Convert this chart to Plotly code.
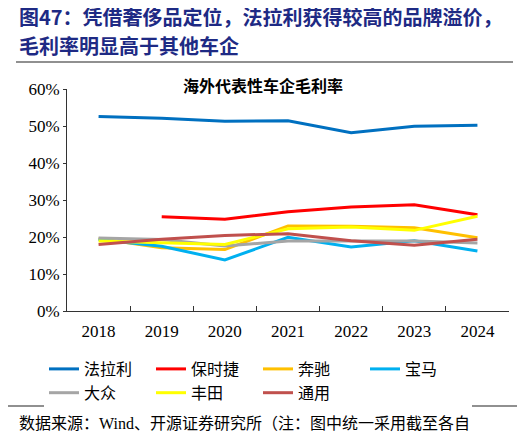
import plotly.graph_objects as go

years = ["2018", "2019", "2020", "2021", "2022", "2023", "2024"]

ferrari = [52.6, 52.1, 51.3, 51.4, 48.2, 49.9, 50.2]
porsche = [None, 25.5, 24.8, 26.8, 28.1, 28.7, 26.0]
mercedes = [19.6, 17.1, 16.6, 23.0, 22.9, 22.5, 19.8]
bmw = [19.3, 17.5, 13.8, 19.9, 17.3, 19.0, 16.2]
vw = [19.7, 19.3, 17.6, 18.9, 18.9, 18.9, 18.4]
toyota = [18.9, 18.4, 18.0, 22.2, 22.7, 21.8, 25.6]
gm = [18.0, 19.4, 20.4, 20.9, 19.0, 17.8, 19.4]

names = ["法拉利", "保时捷", "奔驰", "宝马", "大众", "丰田", "通用"]
series = [ferrari, porsche, mercedes, bmw, vw, toyota, gm]
colors = ["#0070C0", "#FF0000", "#FFC000", "#00B0F0", "#A5A5A5", "#FFFF00", "#C0504D"]

# page has an 8px body margin, so the figure is a bit smaller than the window
OFF = 8
W, H = 527 - OFF, 436 - OFF
L, R, T, B = 67 - OFF, 18, 89 - OFF, 125
pw, ph = W - L - R, H - T - B


# positions below are given in window pixels
def px(x):
    return (x - OFF - L) / pw


def py(y):
    return (H - B - (y - OFF)) / ph


fig = go.Figure()
for name, vals, c in zip(names, series, colors):
    fig.add_trace(go.Scatter(x=years, y=vals, name=name, mode="lines",
                             line=dict(color=c, width=3)))

cjk = "Noto Sans CJK SC"
serif = "Liberation Serif"

fig.add_annotation(text="<b>图47：凭借奢侈品定位，法拉利获得较高的品牌溢价，</b>",
                   x=px(17), y=py(16), xref="paper", yref="paper",
                   xanchor="left", yanchor="middle", showarrow=False,
                   font=dict(family=cjk, size=20, color="#1E2A84"))
fig.add_annotation(text="<b>毛利率明显高于其他车企</b>",
                   x=px(17), y=py(45), xref="paper", yref="paper",
                   xanchor="left", yanchor="middle", showarrow=False,
                   font=dict(family=cjk, size=20, color="#1E2A84"))
fig.add_annotation(text="<b>海外代表性车企毛利率</b>",
                   x=px(263), y=py(85), xref="paper", yref="paper",
                   xanchor="center", yanchor="middle", showarrow=False,
                   font=dict(family=cjk, size=16, color="black"))
fig.add_annotation(text="数据来源：Wind、开源证券研究所（注：图中统一采用截至各自",
                   x=px(17), y=py(423), xref="paper", yref="paper",
                   xanchor="left", yanchor="middle", showarrow=False,
                   font=dict(family=serif + ", " + cjk, size=16, color="black"))

fig.add_shape(type="line", xref="paper", yref="paper",
              x0=px(16), x1=px(513), y0=py(62), y1=py(62),
              line=dict(color="#222", width=1.2))
fig.add_shape(type="line", xref="paper", yref="paper",
              x0=px(7), x1=px(517), y0=py(406), y1=py(406),
              line=dict(color="#222", width=1.2))

fig.update_layout(
    width=W, height=H,
    margin=dict(l=L, r=R, t=T, b=B, pad=0, autoexpand=False),
    plot_bgcolor="white", paper_bgcolor="white",
    font=dict(family=serif, size=17, color="black"),
    showlegend=True,
    legend=dict(orientation="h", x=px(44), y=py(352), xanchor="left", yanchor="top",
                entrywidth=62, entrywidthmode="pixels", tracegroupgap=0,
                font=dict(family=cjk, size=16, color="black")),
)
fig.update_xaxes(type="category", range=[-0.5, 6.5], showline=True,
                 linecolor="#333", linewidth=1, ticks="inside", ticklen=5,
                 tickcolor="#333", tickson="boundaries", showgrid=False,
                 ticklabelstandoff=5, tickfont=dict(family=serif, size=17))
fig.update_yaxes(range=[0, 60], dtick=10, ticksuffix="%", showline=True,
                 linecolor="#333", linewidth=1, ticks="outside", ticklen=3,
                 tickcolor="#333", showgrid=False, zeroline=False,
                 tickfont=dict(family=serif, size=17))

fig.write_html("out.html")
